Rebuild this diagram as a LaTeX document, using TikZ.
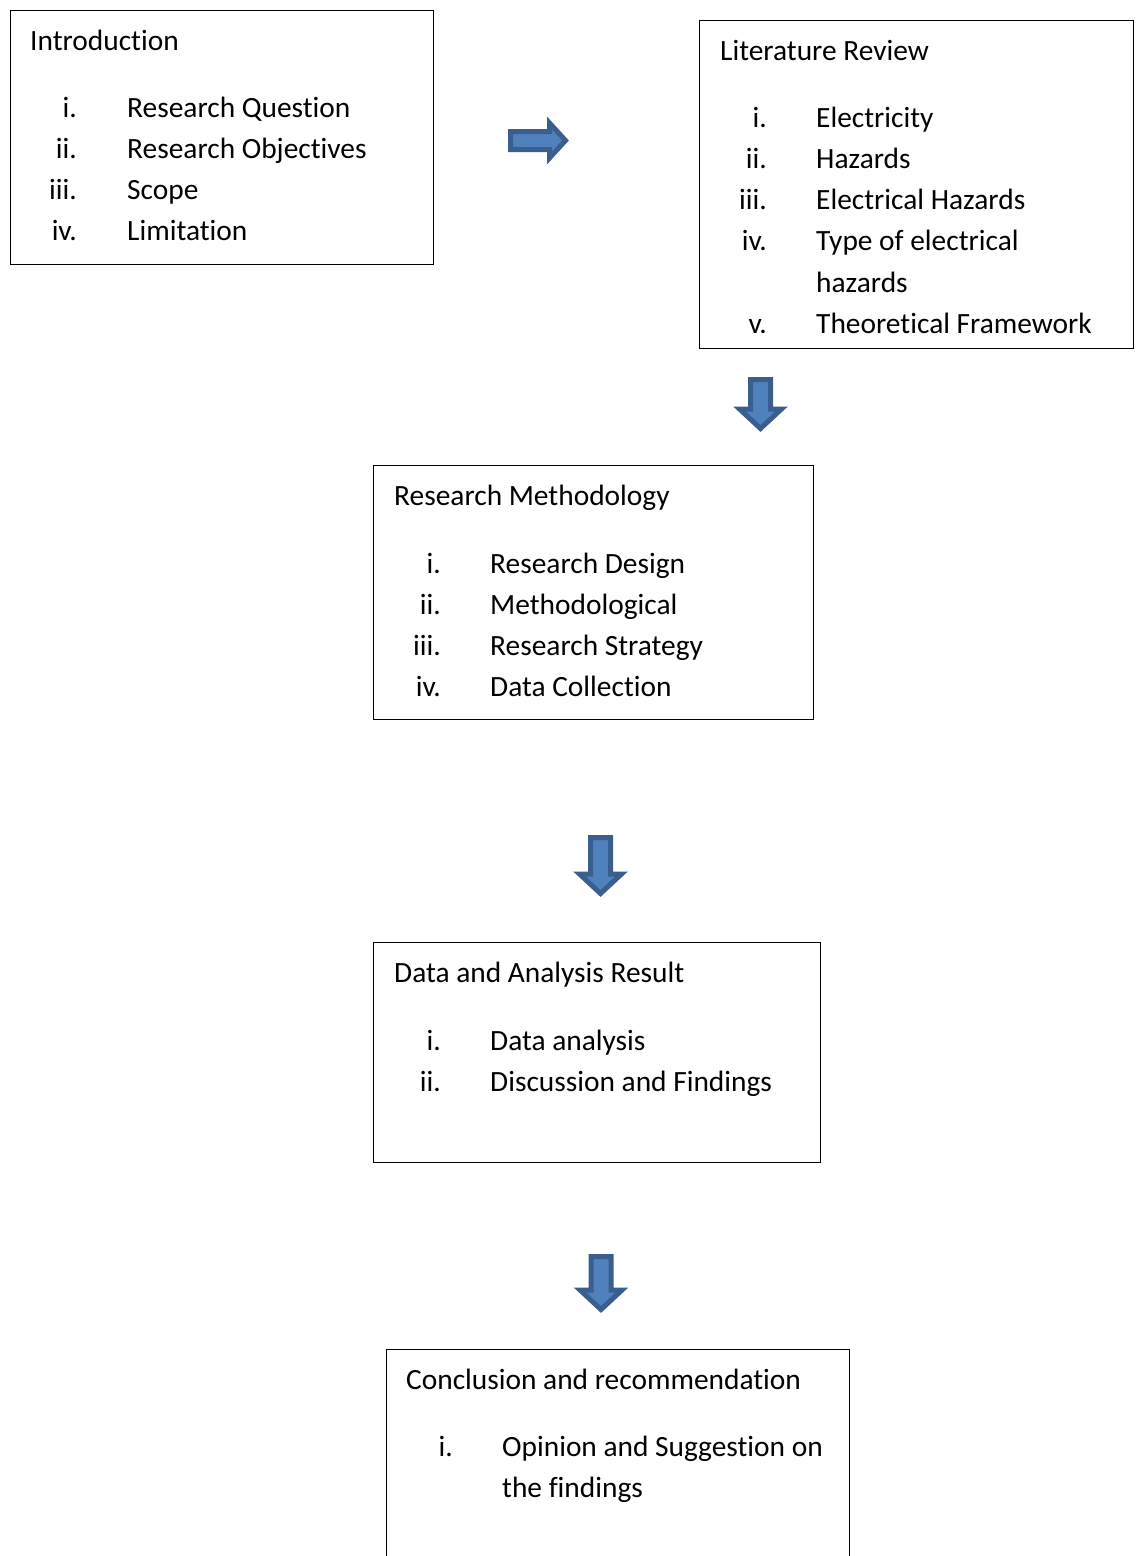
\documentclass[tikz,border=0pt]{standalone}
\usepackage{fontspec}
\setmainfont[Ligatures=NoCommon]{Carlito}
\usepackage{xcolor}
\usetikzlibrary{positioning}

\definecolor{arrowfill}{HTML}{4F81BD}
\definecolor{arrowline}{HTML}{3A5F8E}

\tikzset{
  stagebox/.style={draw, line width=1.3pt, anchor=north west, inner sep=0pt},
  heading/.style={anchor=base west, inner sep=0pt},
  itemnum/.style={anchor=base east, inner sep=0pt},
  itemtext/.style={anchor=base west, inner sep=0pt},
  blockarrow/.style={fill=arrowfill, draw=arrowline, line width=5pt, line join=miter, miter limit=4}
}

% down block arrow: centre x, top, shoulder, tip
\newcommand\downblock[4]{%
  \draw[blockarrow] ({#1-10},#2) -- ({#1+10},#2) -- ({#1+10},#3) -- ({#1+21},#3)
    -- (#1,#4) -- ({#1-21},#3) -- ({#1-10},#3) -- cycle;}

\begin{document}
\begin{tikzpicture}[x=1pt, y=-1pt, font=\fontsize{29.4}{41.3}\selectfont]
  \useasboundingbox (0,0) rectangle (1136,1556);
  \clip (0,0) rectangle (1136,1556);

  % boxes
  \node[stagebox, minimum width=423pt, minimum height=254pt] (intro) at (10,10) {};
  \node[stagebox, minimum width=434pt, minimum height=328pt] (litrev) at (699,20) {};
  \node[stagebox, minimum width=440pt, minimum height=254pt] (method) at (373,465) {};
  \node[stagebox, minimum width=447pt, minimum height=220pt] (result) at (373,942) {};
  \node[stagebox, minimum width=463pt, minimum height=300pt] (concl) at (386,1349) {};

  % Introduction
  \node[heading] (intro-h) at ([shift={(20,40)}]intro.north west) {Introduction};
  \foreach \n/\k/\t in {i./0/Research Question, ii./1/Research Objectives, iii./2/Scope, iv./3/Limitation} {
    \node[itemnum] (intro-n\k) at ([shift={(67,{107+41.3*\k})}]intro.north west) {\n};
    \node[itemtext] (intro-t\k) at ([shift={(117,{107+41.3*\k})}]intro.north west) {\t};
  }

  % Literature Review
  \node[heading] (litrev-h) at ([shift={(21,40)}]litrev.north west) {Literature Review};
  \foreach \n/\k/\t in {i./0/Electricity, ii./1/Hazards, iii./2/Electrical Hazards, iv./3/Type of electrical, /4/hazards, v./5/Theoretical Framework} {
    \node[itemnum] (litrev-n\k) at ([shift={(68,{107+41.3*\k})}]litrev.north west) {\n};
    \node[itemtext] (litrev-t\k) at ([shift={(117,{107+41.3*\k})}]litrev.north west) {\t};
  }

  % Research Methodology
  \node[heading] (method-h) at ([shift={(21,40)}]method.north west) {Research Methodology};
  \foreach \n/\k/\t in {i./0/Research Design, ii./1/Methodological, iii./2/Research Strategy, iv./3/Data Collection} {
    \node[itemnum] (method-n\k) at ([shift={(68,{108+41.3*\k})}]method.north west) {\n};
    \node[itemtext] (method-t\k) at ([shift={(117,{108+41.3*\k})}]method.north west) {\t};
  }

  % Data and Analysis Result
  \node[heading] (result-h) at ([shift={(21,40)}]result.north west) {Data and Analysis Result};
  \foreach \n/\k/\t in {i./0/Data analysis, ii./1/Discussion and Findings} {
    \node[itemnum] (result-n\k) at ([shift={(68,{108+41.3*\k})}]result.north west) {\n};
    \node[itemtext] (result-t\k) at ([shift={(117,{108+41.3*\k})}]result.north west) {\t};
  }

  % Conclusion and recommendation
  \node[heading] (concl-h) at ([shift={(20,40)}]concl.north west) {Conclusion and recommendation};
  \foreach \n/\k/\t in {i./0/Opinion and Suggestion on, /1/the findings} {
    \node[itemnum] (concl-n\k) at ([shift={(67,{107+41.3*\k})}]concl.north west) {\n};
    \node[itemtext] (concl-t\k) at ([shift={(116,{107+41.3*\k})}]concl.north west) {\t};
  }

  % block arrows
  \draw[blockarrow] (510.5,131.5) -- (549.5,131.5) -- (549.5,123) -- (565.5,140.5)
    -- (549.5,158) -- (549.5,149.5) -- (510.5,149.5) -- cycle;
  \downblock{760.5}{379.5}{409}{428.5}
  \downblock{600.5}{837.5}{874}{893.5}
  \downblock{601}{1256.5}{1290}{1309.5}
\end{tikzpicture}
\end{document}
